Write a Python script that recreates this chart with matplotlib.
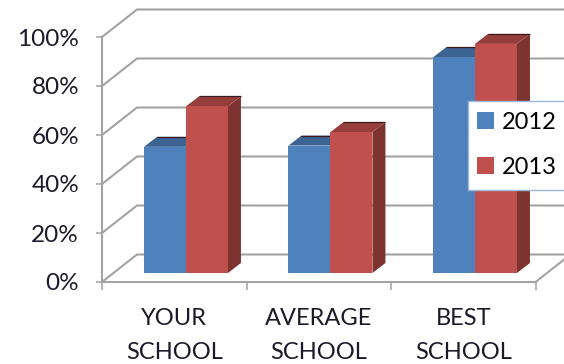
import matplotlib.pyplot as plt
from matplotlib.patches import Patch, Polygon, Rectangle

categories = ["YOUR\nSCHOOL", "AVERAGE\nSCHOOL", "BEST\nSCHOOL"]
values_2012 = [51.5, 52, 88]
values_2013 = [68, 57.5, 93.5]
y_ticks = [0, 20, 40, 60, 80, 100]
y_labels = ["0%", "20%", "40%", "60%", "80%", "100%"]

BLUE = "#4f81bd"
RED = "#c0504d"
GRID = "#a3a3a3"

plt.rcParams["font.family"] = ["Lato", "DejaVu Sans"]

# depth of the fake 3d box, in data units
WALL_X = 35 / 144.5
WALL_Y = 27.5 / 2.45
BAR_OFF_X = 11.7 / 144.5
BAR_OFF_Y = 9 / 2.45
BAR_W = 42 / 144.5
BAR_DX = 13 / 144.5
BAR_DY = 10 / 2.45


def draw_bar(ax, x, v, color, top, side):
    x0 = x + BAR_OFF_X
    x1 = x0 + BAR_W
    y0 = BAR_OFF_Y
    y1 = v + BAR_OFF_Y
    shapes = [
        ([(x1, y0), (x1 + BAR_DX, y0 + BAR_DY), (x1 + BAR_DX, y1 + BAR_DY), (x1, y1)], side),
        ([(x0, y1), (x1, y1), (x1 + BAR_DX, y1 + BAR_DY), (x0 + BAR_DX, y1 + BAR_DY)], top),
        ([(x0, y0), (x1, y0), (x1, y1), (x0, y1)], color),
    ]
    for pts, c in shapes:
        ax.add_patch(Polygon(pts, closed=True, facecolor=c, edgecolor="none", clip_on=False, zorder=3))
    ax.plot([x0 + BAR_DX, x1 + BAR_DX], [y1 + BAR_DY, y1 + BAR_DY], color="#3a1a1a", lw=0.9,
            clip_on=False, zorder=3, solid_capstyle="butt")


def main():
    fig = plt.figure(figsize=(5.64, 3.64), dpi=100)
    ax = fig.add_axes([102 / 564, 1 - 282 / 364, 433.5 / 564, 245 / 364])
    ax.set_xlim(0, 3)
    ax.set_ylim(0, 100)

    # side wall and back wall lines
    for v in y_ticks:
        ax.plot([0, WALL_X, 3 + WALL_X], [v, v + WALL_Y, v + WALL_Y], color=GRID, lw=1.5,
                clip_on=False, zorder=1)
    ax.plot([3, 3 + WALL_X], [0, WALL_Y], color=GRID, lw=1.5, clip_on=False, zorder=1)

    for i in range(len(categories)):
        draw_bar(ax, i + 0.5 - BAR_W, values_2012[i], BLUE, "#3c6391", "#2f4f75")
        draw_bar(ax, i + 0.5, values_2013[i], RED, "#953e3b", "#7d3431")

    for s in ["top", "right"]:
        ax.spines[s].set_visible(False)
    for s in ["left", "bottom"]:
        ax.spines[s].set_color(GRID)
        ax.spines[s].set_linewidth(1.5)

    ax.set_yticks(y_ticks)
    ax.set_yticklabels(y_labels, fontsize=17.5, color="#1a1a2a")
    ax.tick_params(axis="y", length=4.5, width=1.1, color=GRID, pad=12)
    ax.set_xticks([0, 1, 2, 3])
    ax.set_xticklabels([])
    ax.tick_params(axis="x", length=6, width=1.1, color=GRID)
    ax.set_xticks([0.5, 1.5, 2.5], minor=True)
    ax.set_xticklabels(categories, minor=True, fontsize=17, color="#1a1a2a", linespacing=1.72)
    ax.tick_params(axis="x", which="minor", length=0, pad=19)

    # legend box drawn apart so the padding can differ per side
    box = Rectangle((468 / 564, 1 - 190 / 364), 100 / 564, 89 / 364, transform=fig.transFigure,
                    facecolor="white", edgecolor="#9db8d8", lw=1.0, clip_on=False, zorder=4)
    ax.add_patch(box)
    handles = [Patch(facecolor=BLUE, label="2012"), Patch(facecolor=RED, label="2013")]
    leg = ax.legend(handles=handles, loc="upper left", bbox_to_anchor=(477 / 564, 1 - 112 / 364),
                    bbox_transform=fig.transFigure, fontsize=17, frameon=False,
                    handlelength=0.72, handleheight=0.72, handletextpad=0.34,
                    labelspacing=1.0, borderpad=0, borderaxespad=0)
    leg.set_zorder(5)

    fig.savefig("out.png", dpi=100)


if __name__ == "__main__":
    main()
